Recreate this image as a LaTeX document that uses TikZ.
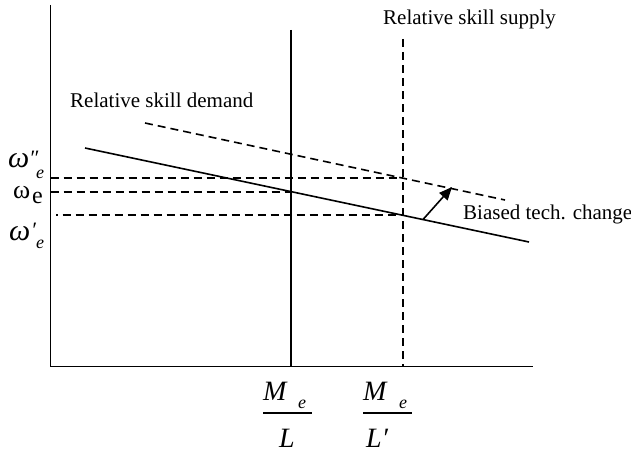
\documentclass[tikz,border=0pt]{standalone}
\usepackage{fontspec}
\setmainfont{Liberation Serif}
\usetikzlibrary{arrows.meta}
\begin{document}
\begin{tikzpicture}[x=1pt,y=-1pt,
  axisln/.style={line width=1.9pt},
  curveln/.style={line width=1.6pt},
  dashln/.style={line width=1.6pt, dash pattern=on 8pt off 5pt},
  lbl/.style={inner sep=0pt, anchor=base west, font=\fontsize{21}{25}\selectfont},
  sym/.style={inner sep=0pt, anchor=base west},
  barln/.style={line width=1.2pt}]
\useasboundingbox (0,0) rectangle (631,452);
% axes
\coordinate (ytop) at (50.5,5);
\coordinate (O) at (50.5,366.5);
\coordinate (xend) at (533,366.5);
\draw[axisln] (ytop) -- (O) -- (xend);
% supply lines
\coordinate (s1t) at (291,30);
\coordinate (s1b) at (291,366.5);
\draw[axisln] (s1t) -- (s1b);
\coordinate (s2t) at (403,39);
\coordinate (s2b) at (403,366.5);
\draw[dashln] (s2t) -- (s2b);
% demand lines
\coordinate (d1a) at (85,148);
\coordinate (d1b) at (529,242);
\draw[curveln] (d1a) -- (d1b);
\coordinate (d2a) at (145,123);
\coordinate (d2b) at (505,200);
\draw[dashln] (d2a) -- (d2b);
% horizontal wage lines
\coordinate (h1a) at (50.5,178);
\coordinate (h1b) at (403,178);
\draw[dashln] (h1a) -- (h1b);
\coordinate (h2a) at (50.5,192);
\coordinate (h2b) at (291,192);
\draw[dashln] (h2a) -- (h2b);
\coordinate (h3a) at (56,215);
\coordinate (h3b) at (403,215);
\draw[dashln, dash phase=6.3pt] (h3a) -- (h3b);
% arrow
\coordinate (arA) at (423,219.5);
\coordinate (arB) at (452,187);
\draw[curveln, -{Triangle[length=13pt,width=11pt]}] (arA) -- (arB);
% text labels
\node[lbl] (tdem) at (70,107) {Relative skill demand};
\node[lbl] (tsup) at (383,25) {Relative skill supply};
\node[lbl] (tbias) at (463,219) {Biased tech. change};
% omega labels
\node[sym, font=\fontsize{30}{30}\selectfont\itshape] (w1) at (8,167) {ω};
\node[sym, font=\fontsize{22}{22}\selectfont\itshape] (w1p) at (29,165) {″};
\node[sym, font=\fontsize{18}{18}\selectfont\itshape] (w1e) at (36,178) {e};
\node[sym, font=\fontsize{26}{26}\selectfont] (w2) at (13,198) {ω};
\node[sym, font=\fontsize{24}{24}\selectfont] (w2e) at (32,203) {e};
\node[sym, font=\fontsize{30}{30}\selectfont\itshape] (w3) at (9,240) {ω};
\node[sym, font=\fontsize{22}{22}\selectfont\itshape] (w3p) at (31,237) {′};
\node[sym, font=\fontsize{18}{18}\selectfont\itshape] (w3e) at (36,248) {e};
% fractions
\node[sym, font=\fontsize{28}{28}\selectfont\itshape] (m1) at (263,400) {M};
\node[sym, font=\fontsize{18}{18}\selectfont\itshape] (m1e) at (298,408) {e};
\coordinate (b1a) at (263,413);
\coordinate (b1b) at (312,413);
\draw[barln] (b1a) -- (b1b);
\node[sym, font=\fontsize{28}{28}\selectfont\itshape] (l1) at (279,447) {L};
\node[sym, font=\fontsize{28}{28}\selectfont\itshape] (m2) at (363,400) {M};
\node[sym, font=\fontsize{18}{18}\selectfont\itshape] (m2e) at (399,408) {e};
\coordinate (b2a) at (363,413);
\coordinate (b2b) at (412,413);
\draw[barln] (b2a) -- (b2b);
\node[sym, font=\fontsize{28}{28}\selectfont\itshape] (l2) at (366,447) {L′};
\end{tikzpicture}
\end{document}
